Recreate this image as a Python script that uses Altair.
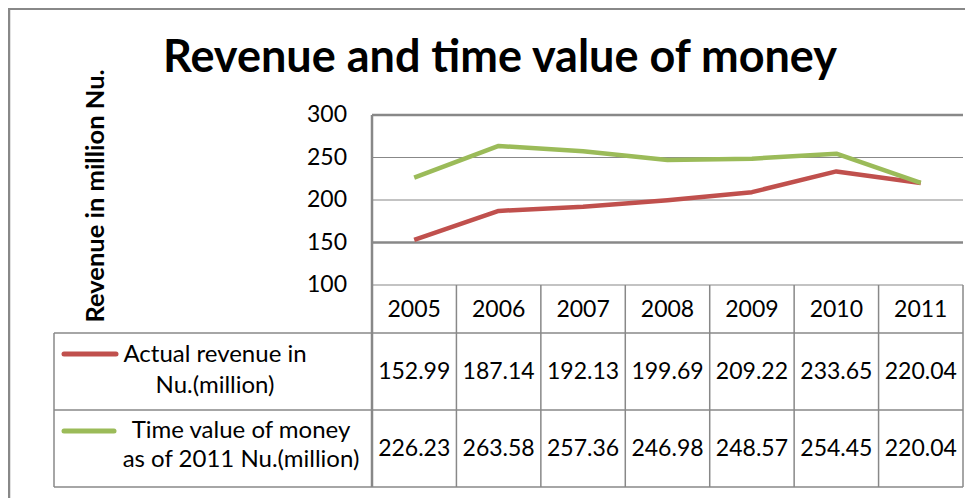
import altair as alt
import pandas as pd

# ---- data ----
years = [2005, 2006, 2007, 2008, 2009, 2010, 2011]
actual = [152.99, 187.14, 192.13, 199.69, 209.22, 233.65, 220.04]
tvm = [226.23, 263.58, 257.36, 246.98, 248.57, 254.45, 220.04]
series_names = ["Actual revenue in Nu.(million)", "Time value of money as of 2011 Nu.(million)"]
series_colors = ["#C0504D", "#9BBB59"]
y_ticks = [100, 150, 200, 250, 300]
thick_ticks = [150, 300]
chart_title = "Revenue and time value of money"
y_title = "Revenue in million Nu."
legend_red = ["Actual revenue in", "Nu.(million)"]
legend_green = ["Time value of money", "as of 2011 Nu.(million)"]

FONT = "Lato"
GRID = "#888888"

df = pd.DataFrame({
    "year": years * 2,
    "value": actual + tvm,
    "series": [series_names[0]] * len(years) + [series_names[1]] * len(years),
})
df_actual = pd.DataFrame({"year": years, "value": actual})
df_tvm = pd.DataFrame({"year": years, "value": tvm})
df_years = pd.DataFrame({"year": years, "label": [str(y) for y in years]})
df_bounds = pd.DataFrame({"b": [y + 0.5 for y in years]})
df_ticks = pd.DataFrame({"v": y_ticks, "label": [str(v) for v in y_ticks]})
df_thick = pd.DataFrame({"v": thick_ticks})
df_one = pd.DataFrame({"k": [0]})

xs = alt.Scale(domain=[years[0] - 0.5, years[-1] + 0.5])
ys = alt.Scale(domain=[y_ticks[0], y_ticks[-1]])

def X(field):
    return alt.X(field, scale=xs, axis=None)

def Y(field):
    return alt.Y(field, scale=ys, axis=None)

# gridlines and y tick labels
grid = alt.Chart(df_ticks).mark_rule(color=GRID, strokeWidth=1.2).encode(
    y=Y("v:Q"), x=alt.value(0), x2=alt.value(591))
thick = alt.Chart(df_thick).mark_rule(color=GRID, strokeWidth=2.5).encode(
    y=Y("v:Q"), x=alt.value(0), x2=alt.value(591))
tick_labels = alt.Chart(df_ticks).mark_text(
    font=FONT, fontSize=23, align="right", baseline="middle", color="black").encode(
    y=Y("v:Q"), x=alt.value(-25), text="label:N")

lines = alt.Chart(df).mark_line(strokeWidth=4.5, strokeJoin="round").encode(
    x=X("year:Q"),
    y=Y("value:Q"),
    color=alt.Color("series:N", scale=alt.Scale(domain=series_names, range=series_colors), legend=None),
)

# table grid
h_rules = [
    alt.Chart(df_one).mark_rule(color=GRID, strokeWidth=1.5).encode(
        x=alt.value(-318), x2=alt.value(591), y=alt.value(yy))
    for yy in (218, 295, 372)
]
left_border = alt.Chart(df_one).mark_rule(color=GRID, strokeWidth=2.5).encode(
    x=alt.value(0), y=alt.value(0), y2=alt.value(372))
legend_border = alt.Chart(df_one).mark_rule(color=GRID, strokeWidth=1.5).encode(
    x=alt.value(-318), y=alt.value(218), y2=alt.value(372))
col_rules = alt.Chart(df_bounds).mark_rule(color=GRID, strokeWidth=1.5).encode(
    x=X("b:Q"), y=alt.value(170), y2=alt.value(372))

# outer frame
frame_top = alt.Chart(df_one).mark_rule(color=GRID, strokeWidth=2).encode(
    x=alt.value(-364), x2=alt.value(593), y=alt.value(-106))
frame_left = alt.Chart(df_one).mark_rule(color=GRID, strokeWidth=2.5).encode(
    x=alt.value(-363), y=alt.value(-107), y2=alt.value(400))

# table texts
year_text = alt.Chart(df_years).mark_text(font=FONT, fontSize=23, baseline="middle", color="black").encode(
    x=X("year:Q"), y=alt.value(195), text="label:N")
act_text = alt.Chart(df_actual).mark_text(font=FONT, fontSize=23, baseline="middle", color="black").encode(
    x=X("year:Q"), y=alt.value(257), text=alt.Text("value:Q", format=".2f"))
tvm_text = alt.Chart(df_tvm).mark_text(font=FONT, fontSize=23, baseline="middle", color="black").encode(
    x=X("year:Q"), y=alt.value(334), text=alt.Text("value:Q", format=".2f"))

# legend keys and labels
key_red = alt.Chart(df_one).mark_rule(color=series_colors[0], strokeWidth=5, strokeCap="round").encode(
    x=alt.value(-308), x2=alt.value(-256), y=alt.value(239))
key_green = alt.Chart(df_one).mark_rule(color=series_colors[1], strokeWidth=5, strokeCap="round").encode(
    x=alt.value(-308), x2=alt.value(-258), y=alt.value(316))

def label(txt, x, y):
    return alt.Chart(df_one).mark_text(
        font=FONT, fontSize=24, align="center", baseline="alphabetic", color="black", text=txt
    ).encode(x=alt.value(x), y=alt.value(y))

leg_texts = [
    label(legend_red[0], -157, 247),
    label(legend_red[1], -157, 278),
    label(legend_green[0], -131, 323),
    label(legend_green[1], -131, 352),
]

title_text = alt.Chart(df_one).mark_text(
    font=FONT, fontSize=45, fontWeight="bold", align="center", baseline="alphabetic",
    color="black", text=chart_title).encode(x=alt.value(128), y=alt.value(-43))
ytitle_text = alt.Chart(df_one).mark_text(
    font=FONT, fontSize=25.5, fontWeight="bold", align="center", baseline="middle", angle=270,
    color="black", text=y_title).encode(x=alt.value(-276), y=alt.value(81))

chart = alt.layer(
    grid, thick, tick_labels, *h_rules, left_border, legend_border, col_rules,
    frame_top, frame_left, lines, year_text, act_text, tvm_text,
    key_red, key_green, *leg_texts, title_text, ytitle_text,
).properties(
    width=591, height=170,
    autosize=alt.AutoSizeParams(type="none"),
    padding={"left": 364, "top": 107, "right": 7, "bottom": 213},
    background="white",
).configure_view(strokeWidth=0)

chart.save("out.html", embed_options={"renderer": "svg", "actions": False})
